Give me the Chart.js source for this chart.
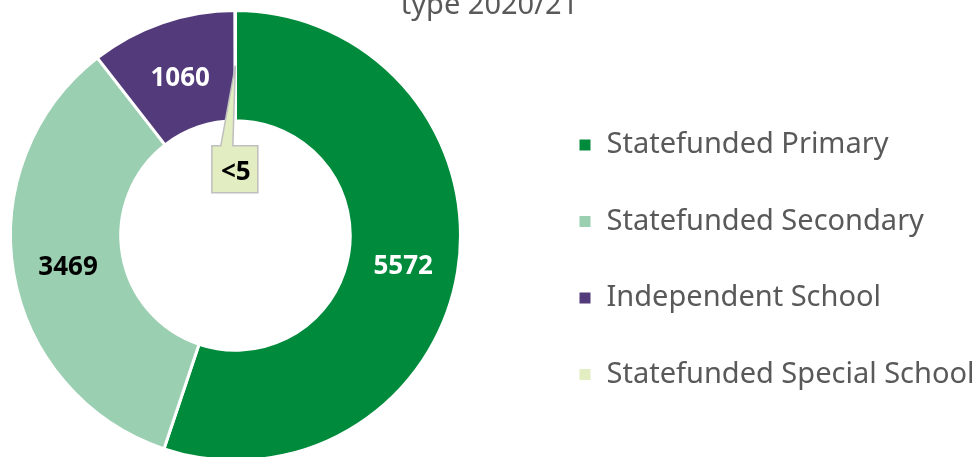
<!DOCTYPE html>
<html>
<head>
<meta charset="utf-8">
<script src="https://cdn.jsdelivr.net/npm/chart.js@4.4.0/dist/chart.umd.min.js"></script>
<style>
html, body { margin: 0; padding: 0; background: #fff; overflow: hidden; }
#wrap { position: absolute; left: 0; top: -40px; width: 979px; height: 502px; }
</style>
</head>
<body>
<div id="wrap"><canvas id="myChart"></canvas></div>
<script>
var categories = ['Statefunded Primary', 'Statefunded Secondary', 'Independent School', 'Statefunded Special School'];
var pupils = [5572, 3469, 1060, 3];
var valueLabels = ['5572', '3469', '1060', '<5'];
var colours = ['#008A3B', '#9BCFB1', '#533B7B', '#E2EDC1'];
var labelColours = ['#ffffff', '#000000', '#ffffff', '#000000'];

// legend sits to the right of a narrower chart area
var LEGEND_WIDTH = 508;
var LEGEND_X = 578;

var legendShift = {
  id: 'legendShift',
  beforeInit: function(chart) {
    var legend = chart.legend;
    var fit = legend.fit;
    legend.fit = function() {
      fit.call(this);
      this.width = LEGEND_WIDTH;
    };
    var draw = legend.draw;
    legend.draw = function() {
      var left = this.left;
      this.left = LEGEND_X - this.options.labels.padding;
      draw.call(this);
      this.left = left;
    };
  }
};

function drawCallout(ctx, tip, text) {
  var w = 46, h = 47;
  var left = tip.x - 23.5, top = tip.y + 80;
  ctx.beginPath();
  ctx.moveTo(left, top);
  ctx.lineTo(left + 9, top);
  ctx.lineTo(tip.x, tip.y);
  ctx.lineTo(left + 21, top);
  ctx.lineTo(left + w, top);
  ctx.lineTo(left + w, top + h);
  ctx.lineTo(left, top + h);
  ctx.closePath();
  ctx.fillStyle = colours[3];
  ctx.fill();
  ctx.lineWidth = 1.5;
  ctx.strokeStyle = '#BFBFBF';
  ctx.stroke();
  ctx.fillStyle = labelColours[3];
  ctx.fillText(text, left + w / 2 + 1, top + h / 2 + 3);
}

var valueLabelPlugin = {
  id: 'valueLabels',
  afterDatasetsDraw: function(chart) {
    var ctx = chart.ctx;
    var arcs = chart.getDatasetMeta(0).data;
    ctx.save();
    ctx.font = 'bold 26px "Noto Sans"';
    ctx.textAlign = 'center';
    ctx.textBaseline = 'middle';
    arcs.forEach(function(arc, i) {
      var p = arc.tooltipPosition();
      if (i === 3) {
        drawCallout(ctx, p, valueLabels[i]);
        return;
      }
      ctx.fillStyle = labelColours[i];
      ctx.fillText(valueLabels[i], p.x, p.y + 3.5);
    });
    ctx.restore();
  }
};

var ctx = document.getElementById('myChart').getContext('2d');

var myChart = new Chart(ctx, {
  type: 'doughnut',
  data: {
    labels: categories,
    datasets: [{
      data: pupils,
      backgroundColor: colours,
      borderColor: '#ffffff',
      borderWidth: 3
    }]
  },
  options: {
    responsive: true,
    maintainAspectRatio: false,
    animation: false,
    events: [],
    cutout: '51%',
    layout: { padding: 0 },
    plugins: {
      title: {
        display: true,
        text: 'type 2020/21',
        color: '#595959',
        font: { family: 'Noto Sans', size: 29, weight: 'normal', lineHeight: 1.2 },
        padding: { top: 28.2, bottom: -14 }
      },
      legend: {
        position: 'right',
        fullSize: false,
        title: { display: true, text: '', font: { size: 20, lineHeight: 1.2 }, padding: { top: 24.5, bottom: 0 } },
        labels: {
          color: '#595959',
          font: { family: 'Noto Sans', size: 29 },
          boxWidth: 14,
          boxHeight: 14,
          padding: 47.5
        }
      },
      tooltip: { enabled: false }
    }
  },
  plugins: [legendShift, valueLabelPlugin]
});
</script>
</body>
</html>
